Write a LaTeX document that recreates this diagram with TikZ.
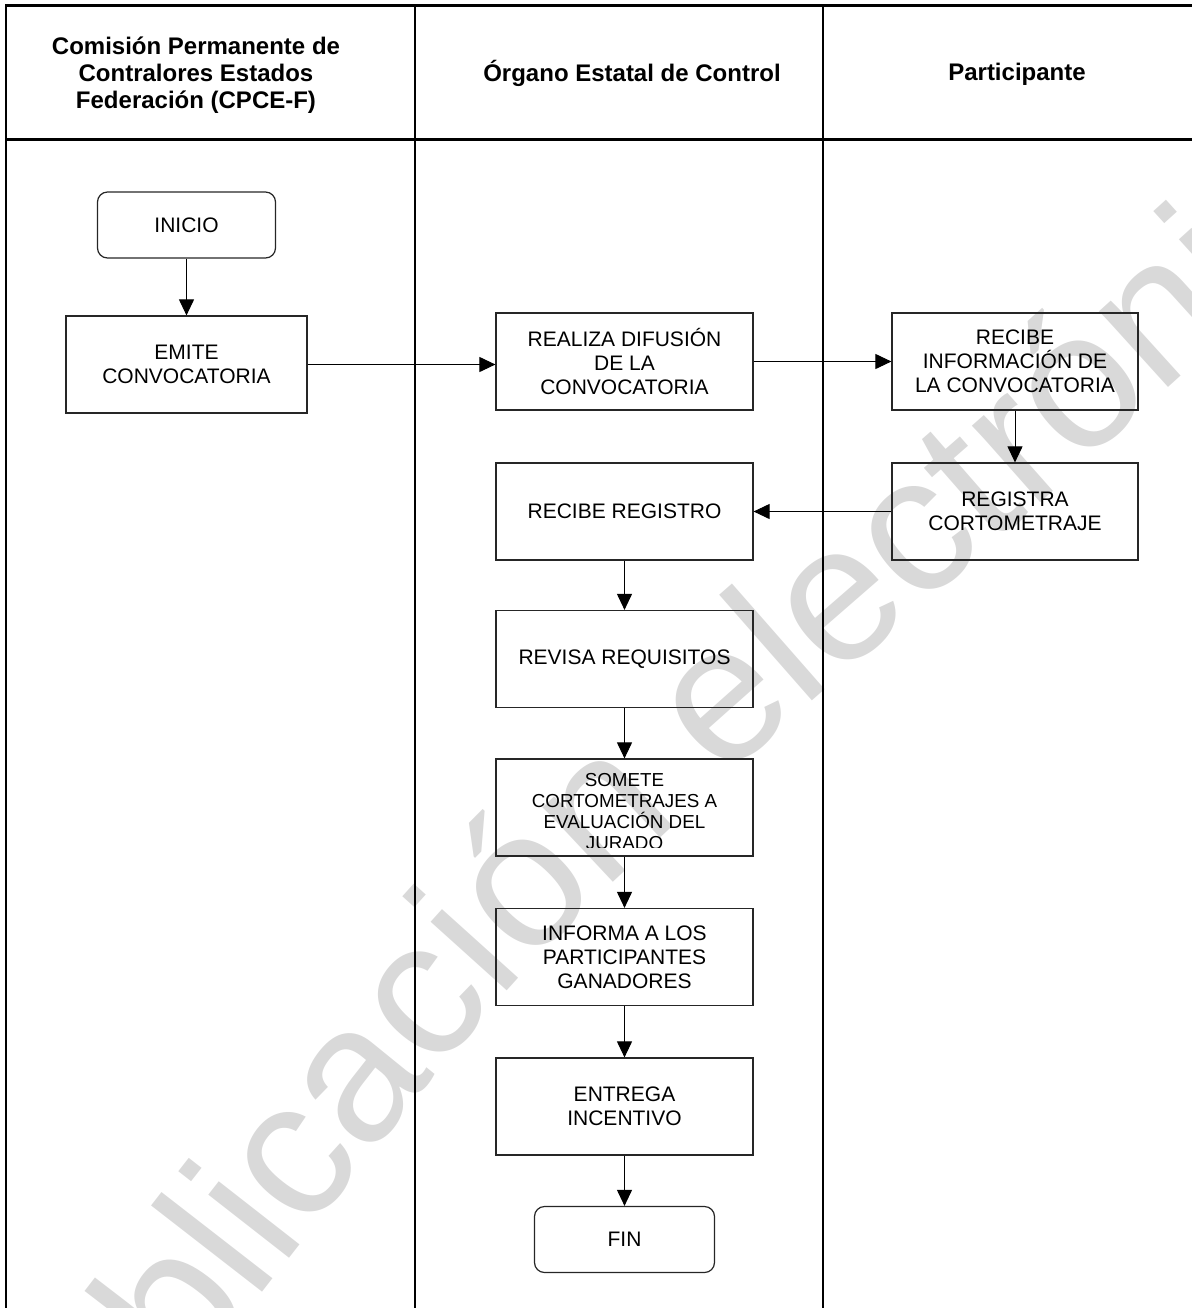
\documentclass[tikz,border=0pt]{standalone}
\usepackage{fontspec}
\setmainfont{Liberation Sans}
\usepackage{tikz}
\usetikzlibrary{arrows.meta,decorations.text}
\definecolor{marca}{gray}{0.85}

\begin{document}
\begin{tikzpicture}[
    x=0.5pt, y=-0.5pt,
    carril/.style={line width=1.4pt},
    encabezado/.style={font=\fontsize{12}{13.5}\selectfont\bfseries, align=center, inner sep=0pt},
    proceso/.style={draw=black!85, line width=0.6pt, minimum width=128.5pt, minimum height=48.5pt,
        align=center, inner sep=0pt, font=\fontsize{10.5}{12}\selectfont},
    terminal/.style={proceso, rounded corners=5pt, minimum width=89pt, minimum height=33pt},
    flecha/.style={-{Triangle[length=8pt,width=7.5pt]}, line width=0.5pt},
  ]
    \useasboundingbox (0,0) rectangle (1192,1308);
    \path[decorate, decoration={text along path,
        text={|\fontsize{97}{97}\selectfont\color{marca}|publicación electrónica}}]
        plot[smooth] coordinates {(59,1560) (530,966) (1093,456) (1537,54)};

    \draw[carril] (1192,5.5) -| (6,1308);
    \draw[carril] (6,139.5) -- (1192,139.5);
    \draw[carril] (415,5.5) -- (415,1308);
    \draw[carril] (823,5.5) -- (823,1308);

    \node[encabezado] (cpce) at (196,75) {Comisión Permanente de\\Contralores Estados\\Federación (CPCE-F)};
    \node[encabezado] (organo) at (632,73) {Órgano Estatal de Control};
    \node[encabezado] (participante) at (1017,74) {Participante};

    \node[terminal] (inicio) at (186.5,225) {INICIO};
    \node[proceso, minimum width=120.5pt] (emite) at (186.5,364.5) {EMITE\\CONVOCATORIA};
    \node[proceso] (difusion) at (624.5,361.5) {REALIZA DIFUSIÓN\\DE LA\\CONVOCATORIA};
    \node[proceso, minimum width=123pt] (recibeinfo) at (1015,361.5) {RECIBE\\INFORMACIÓN DE\\LA CONVOCATORIA};
    \node[proceso, minimum width=123pt] (registra) at (1015,511.5) {REGISTRA\\CORTOMETRAJE};
    \node[proceso] (recibereg) at (624.5,511.5) {RECIBE REGISTRO};
    \node[proceso] (revisa) at (624.5,659) {REVISA REQUISITOS};
    \node[proceso] (somete) at (624.5,807.5) {};
    \begin{scope}
        \clip (somete.north west) rectangle (753,847);
        \node[font=\fontsize{9.4}{10.5}\selectfont, align=center, inner sep=0pt] (sometetxt) at (624.5,811.5)
            {SOMETE\\CORTOMETRAJES A\\EVALUACIÓN DEL\\JURADO};
    \end{scope}
    \node[proceso] (informa) at (624.5,957) {INFORMA A LOS\\PARTICIPANTES\\GANADORES};
    \node[proceso] (entrega) at (624.5,1106.5) {ENTREGA\\INCENTIVO};
    \node[terminal, minimum width=90pt] (fin) at (624.5,1239.5) {FIN};

    \draw[flecha] (inicio) -- (emite);
    \draw[flecha] (emite.east) -- (emite.east -| difusion.west);
    \draw[flecha] (difusion) -- (recibeinfo);
    \draw[flecha] (recibeinfo) -- (registra);
    \draw[flecha] (registra) -- (recibereg);
    \draw[flecha] (recibereg) -- (revisa);
    \draw[flecha] (revisa) -- (somete);
    \draw[flecha] (somete) -- (informa);
    \draw[flecha] (informa) -- (entrega);
    \draw[flecha] (entrega) -- (fin);
\end{tikzpicture}
\end{document}
